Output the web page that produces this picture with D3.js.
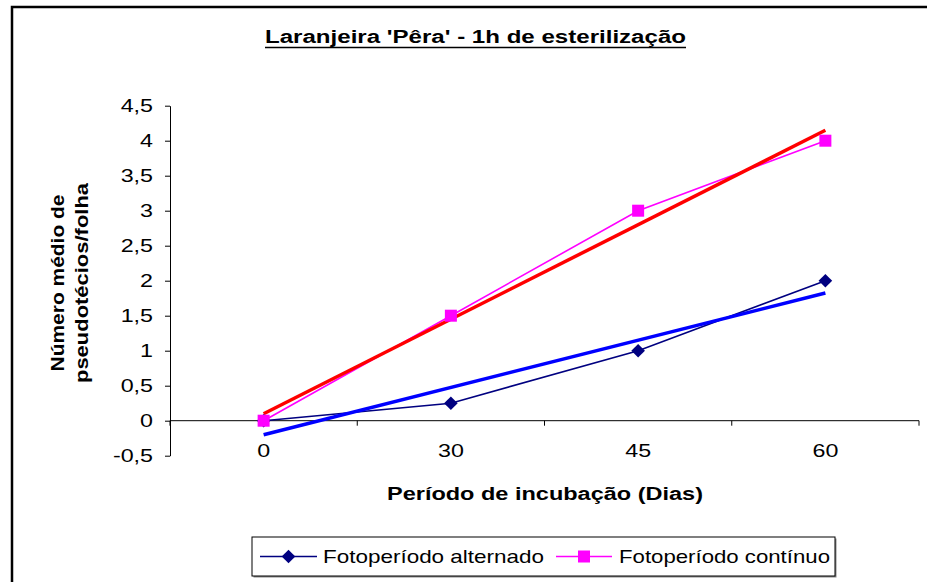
<!DOCTYPE html>
<html>
<head>
<meta charset="utf-8">
<script src="https://cdn.jsdelivr.net/npm/d3@7"></script>
<style>
  html, body { margin: 0; padding: 0; background: #fff; }
  svg { display: block; font-family: "Liberation Sans", Arial, sans-serif; }
</style>
</head>
<body>
<svg id="chart" width="927" height="582"></svg>
<script>
// Days of incubation (category axis)
const categories = ["0", "30", "45", "60"];
// Mean number of pseudothecia per leaf
const alternado = [0, 0.25, 1, 2];
const continuo = [0, 1.5, 3, 4];
const yTicks = [-0.5, 0, 0.5, 1, 1.5, 2, 2.5, 3, 3.5, 4, 4.5];
const seriesNames = ["Fotoperíodo alternado", "Fotoperíodo contínuo"];
const titleText = "Laranjeira 'Pêra' - 1h de esterilização";
const xTitle = "Período de incubação (Dias)";
const yTitleLines = ["Número médio de", "pseudotécios/folha"];

const svg = d3.select("#chart");
const SX = 1.33; // horizontal glyph stretch used for all horizontal labels

// Outer chart frame
svg.append("rect")
  .attr("x", 12).attr("y", 7).attr("width", 940).attr("height", 620)
  .attr("fill", "none").attr("stroke", "#000").attr("stroke-width", 2.5);

const x = d3.scaleBand().domain(categories).range([170, 919]).paddingInner(0).paddingOuter(0);
const y = d3.scaleLinear().domain([-0.5, 4.5]).range([455.7, 105.7]);
const cx = c => x(c) + x.bandwidth() / 2;
const fmt = v => String(v).replace(".", ",");

// Y axis
const yAxis = svg.append("g")
  .attr("transform", "translate(170,0)")
  .call(d3.axisLeft(y).tickValues(yTicks).tickFormat(fmt).tickSize(5).tickSizeOuter(0).tickPadding(12));
yAxis.select(".domain").attr("stroke", "#000").attr("stroke-width", 1);
yAxis.selectAll(".tick line").attr("stroke", "#000");
yAxis.selectAll(".tick text")
  .attr("font-size", 17.5).attr("font-family", "Liberation Sans, Arial, sans-serif").attr("fill", "#000")
  .attr("x", -17 / SX).attr("transform", `scale(${SX},1)`);

// X axis at y = 0 with ticks on category boundaries
const y0 = y(0);
const xAxis = svg.append("g").attr("transform", `translate(0,${y0})`);
xAxis.append("line")
  .attr("x1", x.range()[0]).attr("x2", x.range()[1])
  .attr("stroke", "#000").attr("stroke-width", 1);
const bounds = categories.map(c => x(c)).concat([x.range()[1]]);
xAxis.selectAll("line.tk").data(bounds).join("line").attr("class", "tk")
  .attr("x1", d => d).attr("x2", d => d).attr("y1", 0).attr("y2", 5)
  .attr("stroke", "#000");
xAxis.selectAll("text").data(categories).join("text")
  .attr("transform", d => `translate(${cx(d)},36) scale(${SX},1)`)
  .attr("text-anchor", "middle").attr("font-size", 17.5).attr("fill", "#000")
  .text(d => d);

// Least-squares trendline over category index 1..n
function trend(vals) {
  const n = vals.length;
  const xs = vals.map((_, i) => i + 1);
  const mx = d3.mean(xs), my = d3.mean(vals);
  const sxy = d3.sum(xs, (xi, i) => (xi - mx) * (vals[i] - my));
  const sxx = d3.sum(xs, xi => (xi - mx) * (xi - mx));
  const b = sxy / sxx, a = my - b * mx;
  return [[categories[0], a + b * 1], [categories[n - 1], a + b * n]];
}

const line = d3.line().x(d => cx(d[0])).y(d => y(d[1]));
const altPts = categories.map((c, i) => [c, alternado[i]]);
const conPts = categories.map((c, i) => [c, continuo[i]]);

// Series lines
svg.append("path").attr("d", line(altPts)).attr("fill", "none").attr("stroke", "#000080").attr("stroke-width", 1.6);
svg.append("path").attr("d", line(conPts)).attr("fill", "none").attr("stroke", "#FF00FF").attr("stroke-width", 1.6);

// Linear trendlines
svg.append("path").attr("d", line(trend(alternado))).attr("fill", "none").attr("stroke", "#0000FF").attr("stroke-width", 3.5);
svg.append("path").attr("d", line(trend(continuo))).attr("fill", "none").attr("stroke", "#FF0000").attr("stroke-width", 3.5);

// Markers
const diamond = (px, py, r) => `M${px},${py - r}L${px + r},${py}L${px},${py + r}L${px - r},${py}Z`;
svg.selectAll("path.dia").data(altPts).join("path").attr("class", "dia")
  .attr("d", d => diamond(cx(d[0]), y(d[1]), 6.8)).attr("fill", "#000080");
svg.selectAll("rect.sq").data(conPts).join("rect").attr("class", "sq")
  .attr("x", d => cx(d[0]) - 6).attr("y", d => y(d[1]) - 6)
  .attr("width", 12).attr("height", 12).attr("fill", "#FF00FF");

// Title (bold, underlined)
svg.append("text")
  .attr("x", 265).attr("y", 43)
  .attr("font-size", 18).attr("font-weight", "bold").attr("fill", "#000")
  .attr("textLength", 421).attr("lengthAdjust", "spacingAndGlyphs")
  .text(titleText);
svg.append("line").attr("x1", 265).attr("x2", 686).attr("y1", 47.5).attr("y2", 47.5)
  .attr("stroke", "#000").attr("stroke-width", 1.6);

// X axis title
svg.append("text")
  .attr("x", 387).attr("y", 500)
  .attr("font-size", 17.5).attr("font-weight", "bold").attr("fill", "#000")
  .attr("textLength", 316).attr("lengthAdjust", "spacingAndGlyphs")
  .text(xTitle);

// Y axis title, two rotated lines
const yTitleLens = [177, 200];
const yTitleBase = [64, 88];
yTitleLines.forEach((t, i) => {
  svg.append("text")
    .attr("transform", `translate(${yTitleBase[i]},${283 + yTitleLens[i] / 2}) rotate(-90)`)
    .attr("font-size", 17.5).attr("font-weight", "bold").attr("fill", "#000")
    .attr("textLength", yTitleLens[i]).attr("lengthAdjust", "spacingAndGlyphs")
    .text(t);
});

// Legend
const lg = svg.append("g");
lg.append("rect").attr("x", 253.5).attr("y", 538.5).attr("width", 583).attr("height", 39).attr("fill", "#888");
lg.append("rect").attr("x", 252).attr("y", 537).attr("width", 583).attr("height", 39)
  .attr("fill", "#fff").attr("stroke", "#000").attr("stroke-width", 1);
const legendItems = [
  { name: seriesNames[0], color: "#000080", shape: "diamond", x1: 260, x2: 317, tx: 323, tw: 221 },
  { name: seriesNames[1], color: "#FF00FF", shape: "square", x1: 556, x2: 612, tx: 619, tw: 211 }
];
const ly = 556.5;
legendItems.forEach(it => {
  lg.append("line").attr("x1", it.x1).attr("x2", it.x2).attr("y1", ly).attr("y2", ly)
    .attr("stroke", it.color).attr("stroke-width", 1.6);
  const mx = (it.x1 + it.x2) / 2;
  if (it.shape === "diamond") {
    lg.append("path").attr("d", diamond(mx, ly, 6.8)).attr("fill", it.color);
  } else {
    lg.append("rect").attr("x", mx - 6).attr("y", ly - 6).attr("width", 12).attr("height", 12).attr("fill", it.color);
  }
  lg.append("text").attr("x", it.tx).attr("y", ly + 6.8)
    .attr("font-size", 18.5).attr("fill", "#000")
    .attr("textLength", it.tw).attr("lengthAdjust", "spacingAndGlyphs")
    .text(it.name);
});
</script>
</body>
</html>
